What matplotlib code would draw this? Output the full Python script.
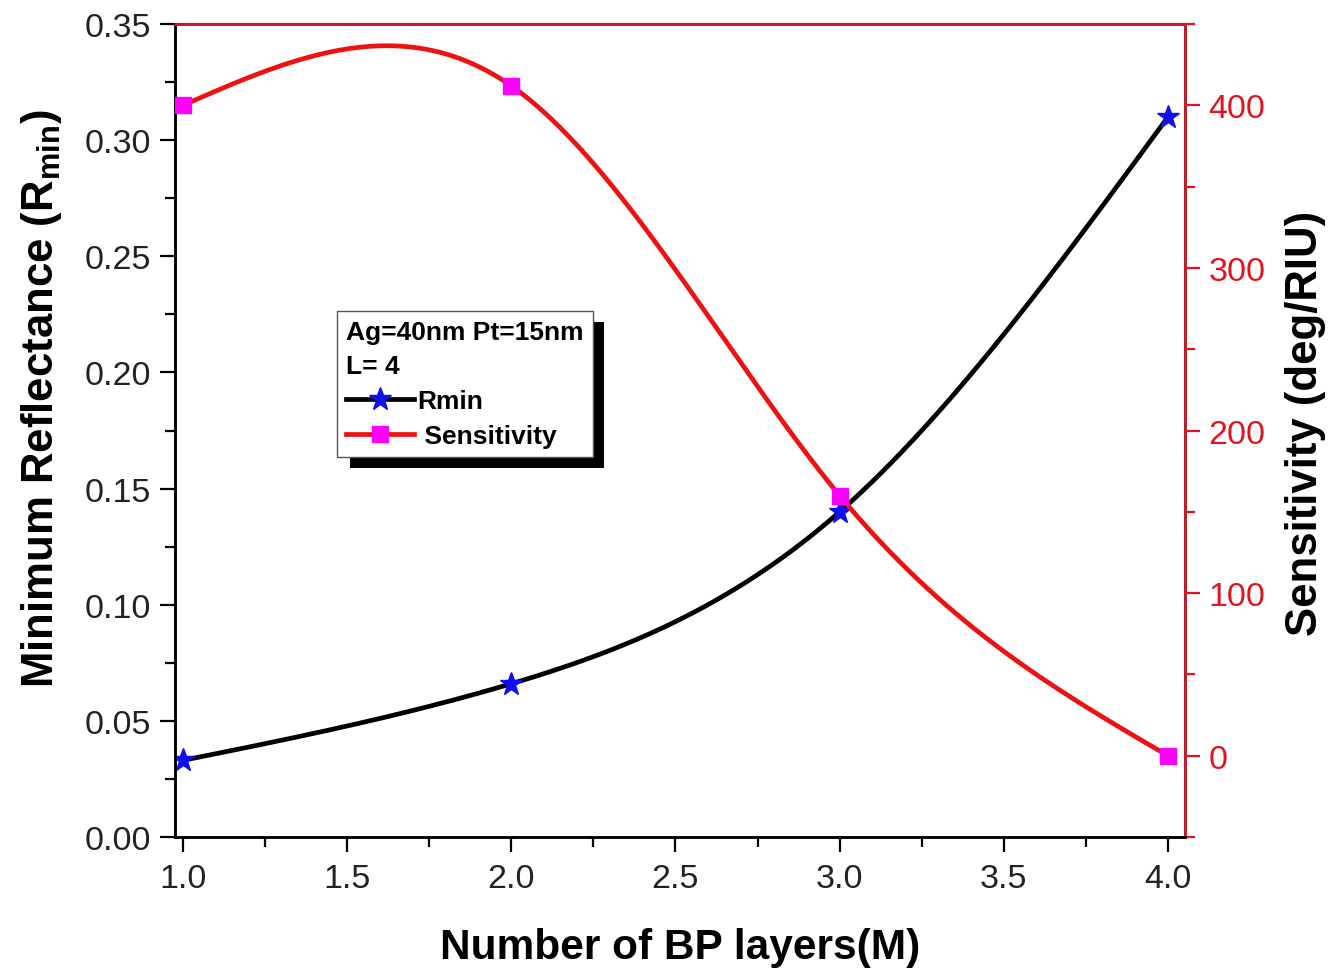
import numpy as np
import matplotlib.pyplot as plt
from matplotlib.lines import Line2D
from matplotlib.patches import Rectangle
from matplotlib.ticker import MultipleLocator

plt.rcParams['font.family'] = ['Liberation Sans', 'DejaVu Sans']
plt.rcParams['mathtext.fontset'] = 'custom'
plt.rcParams['mathtext.bf'] = 'Liberation Sans:bold'
plt.rcParams['mathtext.rm'] = 'Liberation Sans'

# data
layers = [1, 2, 3, 4]
rmin = [0.033, 0.066, 0.14, 0.31]
sensitivity = [400, 412, 160, 0]


def natural_spline(x, y, n=300):
    # smooth connecting line, like Origin's spline connect
    x = np.asarray(x, float)
    y = np.asarray(y, float)
    k = len(x)
    h = np.diff(x)
    A = np.zeros((k, k))
    b = np.zeros(k)
    A[0, 0] = A[-1, -1] = 1
    for i in range(1, k - 1):
        A[i, i - 1] = h[i - 1]
        A[i, i] = 2 * (h[i - 1] + h[i])
        A[i, i + 1] = h[i]
        b[i] = 6 * ((y[i + 1] - y[i]) / h[i] - (y[i] - y[i - 1]) / h[i - 1])
    M = np.linalg.solve(A, b)
    xs = np.linspace(x[0], x[-1], n)
    idx = np.clip(np.searchsorted(x, xs) - 1, 0, k - 2)
    x0, x1 = x[idx], x[idx + 1]
    hh = x1 - x0
    a = (x1 - xs) / hh
    c = (xs - x0) / hh
    ys = (a * y[idx] + c * y[idx + 1]
          + ((a ** 3 - a) * M[idx] + (c ** 3 - c) * M[idx + 1]) * hh ** 2 / 6)
    return xs, ys


fig = plt.figure(figsize=(13.38, 9.78), dpi=100)
ax = fig.add_subplot(111)
fig.subplots_adjust(left=0.1308, right=0.8857, top=0.9744, bottom=0.1431)
ax2 = ax.twinx()

xs, ys = natural_spline(layers, rmin)
ax.plot(xs, ys, color='black', lw=3.4, zorder=2)
ax.plot(layers, rmin, ls='none', marker='*', ms=17, color='#1010ee', zorder=3)

xs2, ys2 = natural_spline(layers, sensitivity)
ax2.plot(xs2, ys2, color='#ee1111', lw=3.4, zorder=2)
ax2.plot(layers, sensitivity, ls='none', marker='s', ms=11, color='#ff00ff', zorder=3)

ax.set_xlim(0.976, 4.052)
ax.set_ylim(0, 0.35)
ax2.set_ylim(-50, 450)

ax.xaxis.set_major_locator(MultipleLocator(0.5))
ax.xaxis.set_minor_locator(MultipleLocator(0.25))
ax.yaxis.set_major_locator(MultipleLocator(0.05))
ax.yaxis.set_minor_locator(MultipleLocator(0.025))
ax2.yaxis.set_major_locator(MultipleLocator(100))
ax2.yaxis.set_minor_locator(MultipleLocator(50))
ax.xaxis.set_major_formatter(plt.FormatStrFormatter('%.1f'))
ax.yaxis.set_major_formatter(plt.FormatStrFormatter('%.2f'))

for a in (ax, ax2):
    a.tick_params(which='major', direction='out', length=11, width=1.6, labelsize=24.5, pad=6)
    a.tick_params(which='minor', direction='out', length=7, width=1.6)
    for s in a.spines.values():
        s.set_linewidth(1.8)
ax.tick_params(axis='both', colors='black', labelcolor='#222222')
ax.tick_params(axis='x', pad=8)
ax2.tick_params(axis='y', which='both', colors='#e0141e', labelcolor='#e0141e')
ax2.spines['right'].set_color('#e0141e')
ax2.spines['top'].set_color('#e0141e')
ax2.spines['left'].set_color('black')
ax2.spines['bottom'].set_color('black')

ax.set_xlabel('Number of BP layers(M)', fontsize=30.5, fontweight='bold')
ax.set_ylabel(r'Minimum Reflectance (R$_{\mathbf{min}}$)', fontsize=31.5,
              fontweight='bold')
ax2.set_ylabel('Sensitivity (deg/RIU)', fontsize=31.5, fontweight='bold')
ax.xaxis.set_label_coords(0.5, -0.1353)
ax.yaxis.set_label_coords(-0.1326, 0.54)
ax2.yaxis.set_label_coords(1.1188, 0.51)
for lab in (ax.xaxis.label, ax.yaxis.label, ax2.yaxis.label):
    lab.set_va('center')
    lab.set_ha('center')

handles = [
    Line2D([], [], color='black', lw=3.4, marker='*', ms=17,
           markerfacecolor='#1010ee', markeredgecolor='#1010ee'),
    Line2D([], [], color='#ee1111', lw=3.4, marker='s', ms=12,
           markerfacecolor='#ff00ff', markeredgecolor='#ff00ff'),
]
leg = ax2.legend(handles, ['Rmin', ' Sensitivity'], title='Ag=40nm Pt=15nm\nL= 4',
                 loc='upper left', bbox_to_anchor=(0.160, 0.647),
                 prop={'weight': 'bold', 'size': 19},
                 title_fontproperties={'weight': 'bold', 'size': 19},
                 alignment='left', fancybox=False, framealpha=1,
                 edgecolor='#555555', handlelength=2.6, handletextpad=0.1,
                 borderpad=0.35, labelspacing=0.42, borderaxespad=0)
leg.get_title().set_linespacing(1.5)
leg.get_frame().set_linewidth(1.0)
leg.set_zorder(10)

fig.canvas.draw()
bb = leg.get_window_extent()
inv = fig.transFigure.inverted()
(x0, y0), (x1, y1) = inv.transform([(bb.x0 + 13, bb.y0 - 11), (bb.x1 + 11, bb.y1 - 11)])
fig.patches.append(Rectangle((x0, y0), x1 - x0, y1 - y0, transform=fig.transFigure,
                             facecolor='black', edgecolor='none', zorder=1))
ax2.patch.set_visible(False)
ax.set_zorder(1)
ax2.set_zorder(2)

fig.savefig('out.png', dpi=100)
